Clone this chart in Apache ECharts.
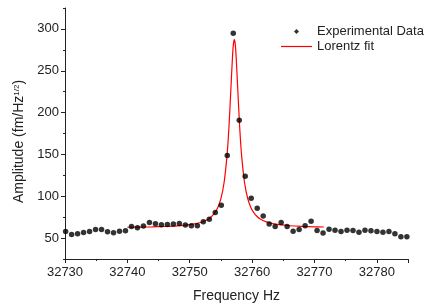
<!DOCTYPE html>
<html>
<head>
<meta charset="utf-8">
<script src="https://cdn.jsdelivr.net/npm/echarts@6/dist/echarts.min.js"></script>
<style>
  html, body { margin: 0; padding: 0; background: #fff; }
  #chart { width: 429px; height: 304px; }
</style>
</head>
<body>
<div id="chart"></div>
<script>
// measured points (Hz, fm/Hz^1/2)
var freq = [
  32730.10, 32731.06, 32732.02, 32732.98, 32733.94, 32734.90, 32735.86, 32736.82,
  32737.78, 32738.74, 32739.70, 32740.66, 32741.62, 32742.58, 32743.54, 32744.50,
  32745.46, 32746.42, 32747.38, 32748.34, 32749.30, 32750.26, 32751.22, 32752.18,
  32753.14, 32754.10, 32755.06, 32756.02, 32756.98, 32757.94, 32758.90, 32759.86,
  32760.82, 32761.78, 32762.74, 32763.70, 32764.66, 32765.62, 32766.58, 32767.54,
  32768.50, 32769.46, 32770.42, 32771.38, 32772.34, 32773.30, 32774.26, 32775.22,
  32776.18, 32777.14, 32778.10, 32779.06, 32780.02, 32780.98, 32781.94, 32782.90,
  32783.86, 32784.82
];
var amplitude = [
  58.0, 54.4, 55.1, 56.8, 58.0, 60.4, 60.4, 57.5,
  56.3, 58.3, 58.7, 63.9, 62.3, 64.3, 68.7, 67.0,
  65.8, 66.3, 66.7, 67.5, 65.5, 64.6, 64.6, 69.4,
  72.6, 80.6, 89.3, 148.8, 294.9, 190.8, 123.8, 97.6,
  85.7, 76.5, 66.7, 63.9, 68.7, 63.9, 58.3, 60.4,
  64.6, 70.2, 59.2, 56.0, 60.7, 59.5, 58.0, 59.5,
  59.2, 57.1, 59.5, 58.7, 58.0, 57.1, 58.0, 55.1,
  51.5, 51.5
];

// Lorentz fit curve
var fitFreq = [
  32740, 32742, 32744, 32746, 32748, 32750, 32751, 32752, 32753, 32753.5,
  32754, 32754.5, 32755, 32755.5, 32756, 32756.3, 32756.6, 32756.85, 32757,
  32757.15, 32757.3, 32757.45, 32757.7, 32758, 32758.3, 32758.8, 32759.3,
  32759.8, 32760.3, 32760.8, 32761.3, 32762.3, 32763.3, 32764.3, 32766,
  32768, 32770, 32771.5
];
var fitAmp = [
  62.95, 63.13, 63.40, 63.83, 64.56, 65.98, 67.25, 69.29, 72.88, 75.79,
  80.05, 86.59, 97.25, 115.83, 150.33, 183.9, 228.2, 265.8, 281.5,
  287.3, 281.5, 265.8, 228.2, 183.9, 150.3, 115.8, 97.3,
  86.6, 80.1, 75.8, 72.9, 69.3, 67.3, 66.0, 64.72,
  63.91, 63.45, 63.22
];

var xMajorTicks = [32730, 32740, 32750, 32760, 32770, 32780];
var yMajorTicks = [50, 100, 150, 200, 250, 300];

var FONT = "'Liberation Sans', Arial, sans-serif";
var INK = "#222";

function pairs(xs, ys) {
  return xs.map(function (x, i) {
    return [x, ys[i]];
  });
}

var option = {
  animation: false,
  textStyle: { fontFamily: FONT, color: INK },
  grid: {
    left: 65,
    right: 21,
    top: 8,
    bottom: 45,
    containLabel: false,
    outerBoundsMode: "none",
  },
  legend: {
    orient: "vertical",
    left: 276,
    top: 20,
    itemWidth: 31,
    itemHeight: 5,
    itemGap: 2,
    symbolKeepAspect: true,
    textStyle: { fontSize: 13, color: INK, fontFamily: FONT },
    data: [
      { name: "Experimental Data", icon: "path://M15.5,0 L18,2.5 L15.5,5 L13,2.5 Z M0,2.5 M31,2.5" },
      { name: "Lorentz fit", icon: "path://M0,0 L31,0 L31,1.2 L0,1.2 Z" },
    ],
  },
  xAxis: [
    {
      type: "value",
      position: "bottom",
      min: 32730,
      max: 32785,
      interval: 5,
      name: "Frequency Hz",
      nameLocation: "middle",
      nameGap: 30,
      nameTextStyle: { fontSize: 14, color: INK, fontFamily: FONT },
      axisLine: { lineStyle: { color: INK, width: 1 } },
      axisTick: { length: 2, lineStyle: { color: INK } },
      axisLabel: {
        margin: 7,
        fontSize: 13,
        color: INK,
        fontFamily: FONT,
        formatter: function (v) {
          return xMajorTicks.indexOf(v) >= 0 ? String(v) : "";
        },
      },
      splitLine: { show: false },
    },
    {
      type: "value",
      position: "bottom",
      min: 32730,
      max: 32785,
      interval: 10,
      axisLine: { show: false },
      axisTick: { length: 4, lineStyle: { color: INK } },
      axisLabel: { show: false },
      splitLine: { show: false },
    },
  ],
  yAxis: [
    {
      type: "value",
      position: "left",
      min: 25,
      max: 325,
      interval: 25,
      name: "{a|Amplitude (fm/Hz}{s|1/2}{a|)}",
      nameLocation: "middle",
      nameGap: 31,
      nameTextStyle: {
        padding: [0, 16, 0, 0],
        rich: {
          a: { fontSize: 14, color: INK, fontFamily: FONT },
          s: { fontSize: 8, color: INK, fontFamily: FONT, verticalAlign: "top", lineHeight: 10 },
        },
      },
      axisLine: { show: true, lineStyle: { color: INK, width: 1 } },
      axisTick: { show: true, length: 2, lineStyle: { color: INK } },
      axisLabel: {
        margin: 6,
        fontSize: 13,
        color: INK,
        fontFamily: FONT,
        formatter: function (v) {
          return yMajorTicks.indexOf(v) >= 0 ? String(v) : "";
        },
      },
      splitLine: { show: false },
    },
    {
      type: "value",
      position: "left",
      min: 25,
      max: 325,
      axisLine: { show: false },
      axisTick: { show: true, length: 4, customValues: yMajorTicks, lineStyle: { color: INK } },
      axisLabel: { show: false },
      splitLine: { show: false },
    },
  ],
  series: [
    {
      name: "Lorentz fit",
      type: "line",
      xAxisIndex: 0,
      yAxisIndex: 0,
      showSymbol: false,
      symbol: "none",
      smooth: 0.2,
      lineStyle: { color: "#ff0000", width: 1.2 },
      itemStyle: { color: "#ff0000" },
      data: pairs(fitFreq, fitAmp),
      z: 2,
    },
    {
      name: "Experimental Data",
      type: "scatter",
      xAxisIndex: 0,
      yAxisIndex: 0,
      symbol: "circle",
      symbolSize: 5.5,
      itemStyle: { color: "#000" },
      data: pairs(freq, amplitude),
      z: 3,
    },
  ],
};

var myChart = echarts.init(document.getElementById("chart"), null, { renderer: "canvas" });
myChart.setOption(option);
</script>
</body>
</html>
